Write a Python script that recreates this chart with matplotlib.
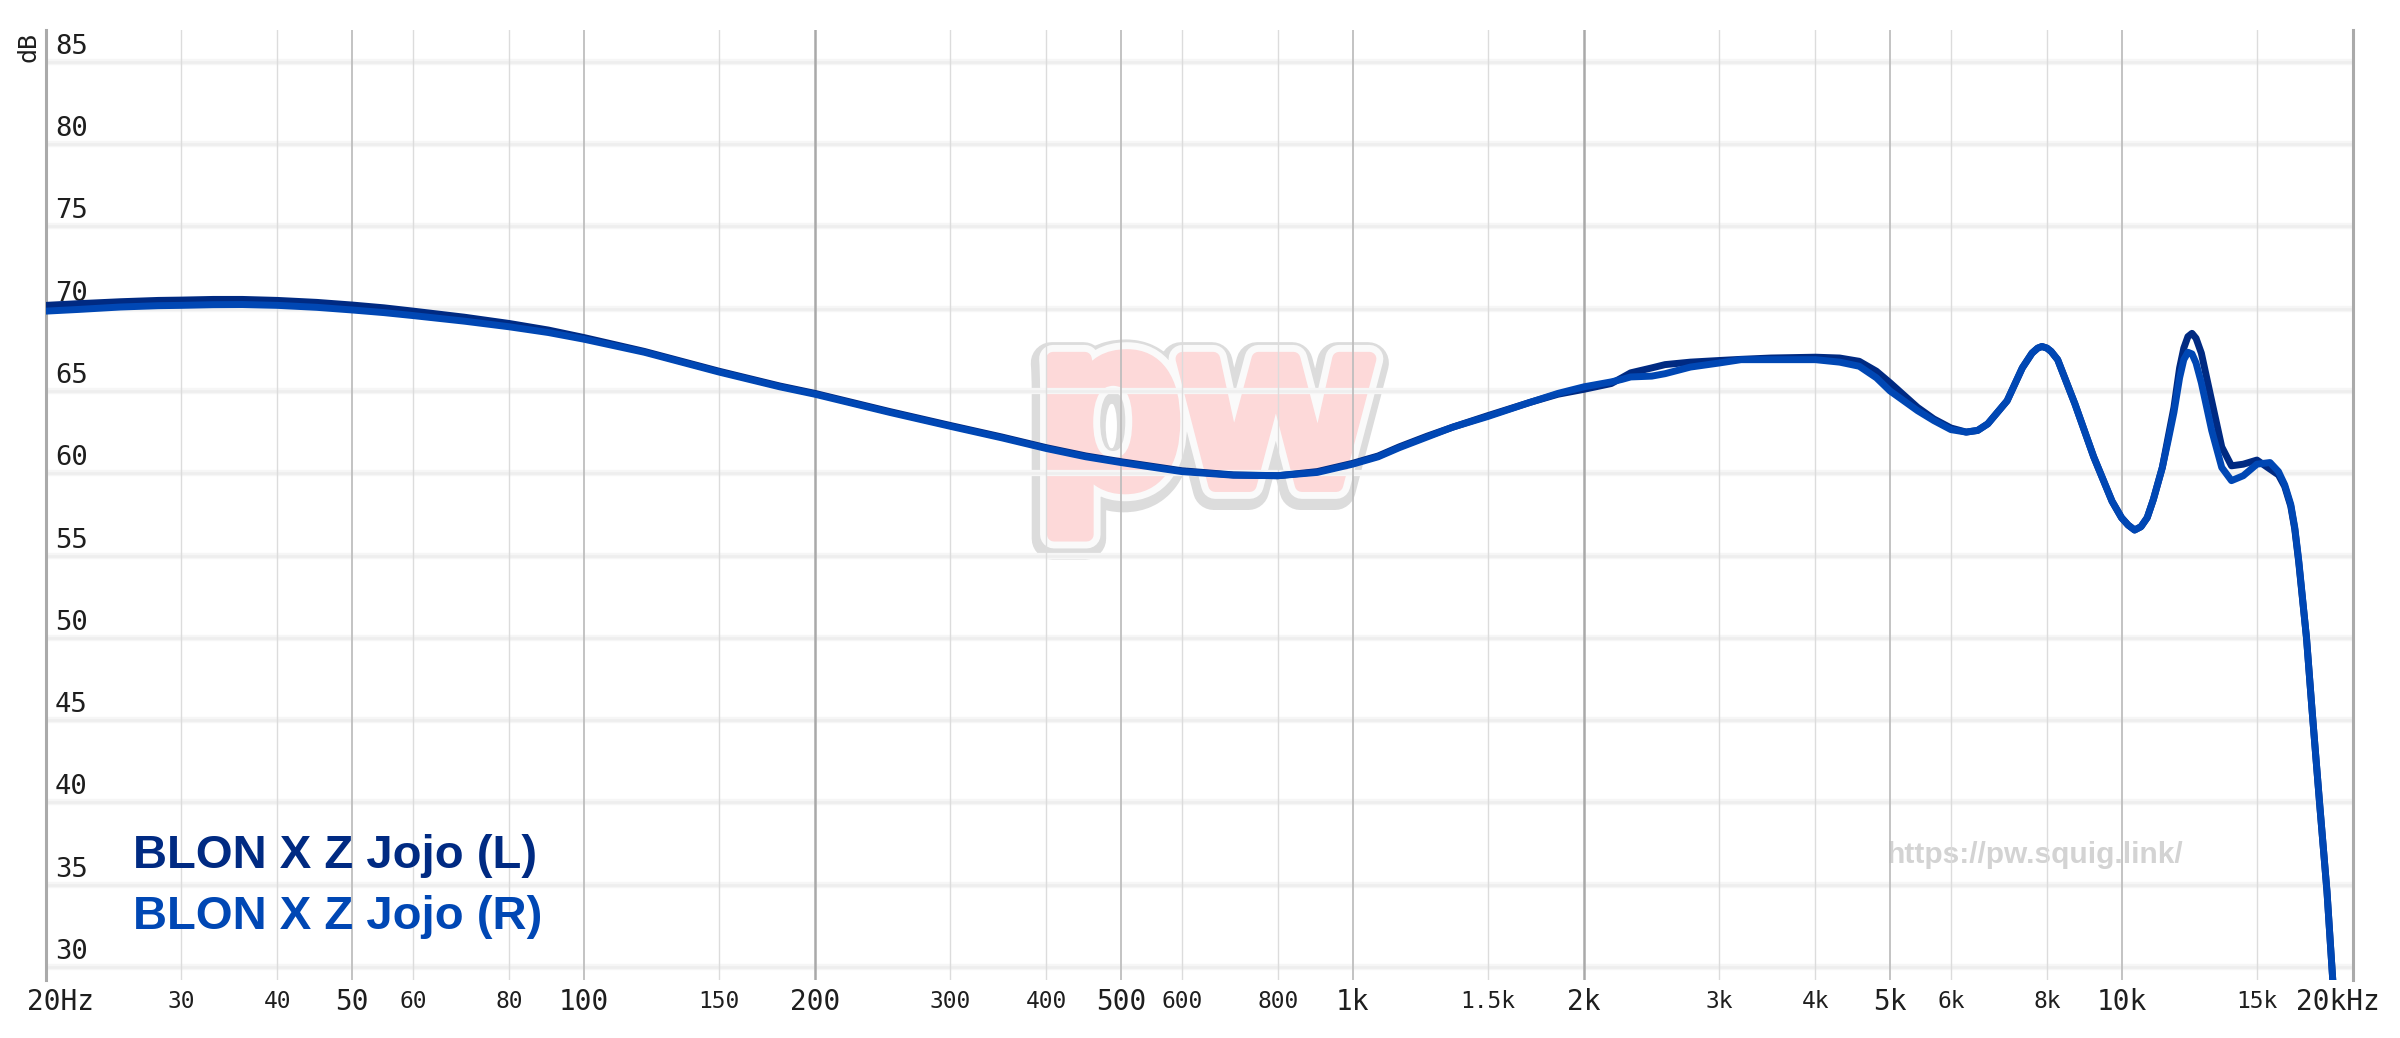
import matplotlib
matplotlib.use("Agg")
import matplotlib.pyplot as plt
import matplotlib.patheffects as pe
from matplotlib.ticker import NullLocator
from matplotlib.transforms import offset_copy

# frequency response (Hz, dB)
freqs = [20, 22, 25, 28, 30, 33, 36, 40, 45, 50, 55, 60, 70, 80, 90, 100, 120, 150, 180, 200,
         250, 300, 350, 400, 450, 500, 600, 700, 800, 900, 1000, 1080, 1150, 1250, 1350, 1500,
         1700, 1850, 2000, 2170, 2240, 2300, 2450, 2550, 2750, 3000, 3200, 3500, 4000, 4300,
         4560, 4800, 5000, 5430, 5700, 6000, 6280, 6500, 6700, 7100, 7430, 7650, 7780, 7880,
         8000, 8100, 8260, 8700, 9200, 9720, 10000, 10200, 10400, 10600, 10800, 11000, 11300,
         11500, 11700, 11900, 12050, 12200, 12350, 12500, 12700, 13100, 13500, 13900, 14400,
         15000, 15600, 16000, 16300, 16600, 16800, 17000, 17400, 17700, 18100, 18500, 18800,
         19000]
left_db = [70.2, 70.3, 70.42, 70.5, 70.52, 70.56, 70.56, 70.5, 70.38, 70.22, 70.05, 69.85,
           69.48, 69.1, 68.7, 68.25, 67.4, 66.2, 65.3, 64.85, 63.75, 62.9, 62.2, 61.55, 61.05,
           60.7, 60.15, 59.9, 59.85, 60.1, 60.6, 61.05, 61.6, 62.25, 62.8, 63.5, 64.3, 64.8,
           65.1, 65.45, 65.8, 66.1, 66.4, 66.6, 66.75, 66.85, 66.92, 67.0, 67.05, 67.0, 66.8,
           66.2, 65.5, 64.0, 63.3, 62.75, 62.5, 62.6, 63.0, 64.4, 66.4, 67.3, 67.6, 67.7, 67.6,
           67.4, 66.9, 64.2, 61.0, 58.3, 57.3, 56.85, 56.55, 56.75, 57.3, 58.4, 60.35, 62.2,
           64.0, 66.4, 67.6, 68.3, 68.5, 68.2, 67.3, 64.4, 61.6, 60.45, 60.55, 60.8, 60.25,
           59.9, 59.2, 58.0, 56.6, 54.6, 50.0, 45.5, 39.9, 34.6, 29.6, 26.5]
right_db = [69.85, 69.95, 70.1, 70.18, 70.2, 70.24, 70.25, 70.2, 70.08, 69.92, 69.76, 69.58,
            69.24, 68.9, 68.55, 68.15, 67.35, 66.15, 65.25, 64.8, 63.7, 62.85, 62.15, 61.5,
            61.0, 60.65, 60.1, 59.88, 59.85, 60.05, 60.55, 61.0, 61.55, 62.2, 62.8, 63.45,
            64.3, 64.85, 65.25, 65.55, 65.7, 65.85, 65.9, 66.05, 66.45, 66.7, 66.9, 66.9, 66.9,
            66.75, 66.5, 65.8, 65.0, 63.8, 63.2, 62.65, 62.5, 62.6, 63.0, 64.4, 66.4, 67.3,
            67.6, 67.7, 67.6, 67.4, 66.9, 64.2, 61.0, 58.3, 57.3, 56.85, 56.55, 56.75, 57.3,
            58.4, 60.35, 62.0, 63.7, 65.8, 66.9, 67.35, 67.25, 66.7, 65.5, 62.6, 60.35, 59.55,
            59.85, 60.55, 60.65, 60.1, 59.3, 58.1, 56.7, 54.7, 50.0, 45.5, 39.9, 34.6, 29.6,
            26.5]

db_ticks = [30, 35, 40, 45, 50, 55, 60, 65, 70, 75, 80, 85]
major_freqs = [50, 100, 200, 500, 1000, 2000, 5000, 10000]
major_labels = ["50", "100", "200", "500", "1k", "2k", "5k", "10k"]
minor_freqs = [30, 40, 60, 80, 150, 300, 400, 600, 800, 1500, 3000, 4000, 6000, 8000, 15000]
minor_labels = ["30", "40", "60", "80", "150", "300", "400", "600", "800", "1.5k", "3k",
                "4k", "6k", "8k", "15k"]

mono = "DejaVu Sans Mono"
txt = "#1e1e1e"
pink = "#fdd9d9"

fig = plt.figure(figsize=(24, 10.38), dpi=100)
ax = fig.add_axes([46 / 2400, 1 - 980 / 1038, 2307 / 2400, 950 / 1038])
ax.set_xscale("log")
ax.set_xlim(20, 20000)
ax.set_ylim(29.21, 86.93)
ax.xaxis.set_major_locator(NullLocator())
ax.xaxis.set_minor_locator(NullLocator())
ax.set_yticks([])
ax.tick_params(length=0)
for s in ["top", "bottom"]:
    ax.spines[s].set_visible(False)
for s in ["left", "right"]:
    ax.spines[s].set_color("#aaaaaa")
    ax.spines[s].set_linewidth(2.2)

# soft horizontal grid
for v in db_ticks:
    ax.axhline(v, color="#f6f6f6", lw=4.5, zorder=1)
    ax.axhline(v, color="#eeeeee", lw=1.8, zorder=1.1)

# vertical grid
for f in minor_freqs:
    ax.axvline(f, color="#dcdcdc", lw=1.0, zorder=1.2)
for f in major_freqs:
    if f in (200, 2000):
        ax.axvline(f, color="#a9a9a9", lw=1.8, zorder=1.3)
    else:
        ax.axvline(f, color="#bebebe", lw=1.3, zorder=1.3)

# watermark and url
ax.text(1203 / 2400, 1 - 423 / 1038, "pw", transform=fig.transFigure, ha="center", va="center",
        fontsize=172, weight="bold", family="Liberation Sans", color=pink, zorder=0.5,
        path_effects=[pe.Stroke(linewidth=30, foreground="#dcdcdc", offset=(-1, -3),
                                joinstyle="round"),
                      pe.Stroke(linewidth=20, foreground="#fafafa", joinstyle="round"),
                      pe.Stroke(linewidth=10, foreground=pink, joinstyle="round"),
                      pe.Normal()])
ax.text(1887 / 2400, 1 - 863 / 1038, "https://pw.squig.link/", transform=fig.transFigure,
        ha="left", va="baseline", fontsize=21.5, weight="bold", family="Liberation Sans",
        color="#d3d3d3", zorder=0.8)

# curves
ax.plot(freqs, left_db, color="#002a82", lw=5, zorder=3, solid_joinstyle="round",
        solid_capstyle="round")
ax.plot(freqs, right_db, color="#0047b4", lw=5, zorder=3.1, solid_joinstyle="round",
        solid_capstyle="round")

# y labels inside the plot
ytr = offset_copy(ax.transData, fig=fig, x=9, y=15, units="dots")
for v in db_ticks:
    ax.text(20, v, str(v), transform=ytr, ha="left", va="center", fontsize=19.5,
            family=mono, color=txt, zorder=2)
fig.text(28.5 / 2400, 1 - 47 / 1038, "dB", rotation=90, ha="center", va="center",
         fontsize=18, family=mono, color=txt)

# x labels
xtr = ax.get_xaxis_transform()
ylab = -22 / 950
for f, lab in zip(major_freqs, major_labels):
    ax.text(f, ylab, lab, transform=xtr, ha="center", va="center", fontsize=20,
            family=mono, color=txt)
for f, lab in zip(minor_freqs, minor_labels):
    ax.text(f, ylab, lab, transform=xtr, ha="center", va="center", fontsize=16.5,
            family=mono, color=txt)
ax.text(20, ylab, "20Hz", transform=offset_copy(xtr, fig=fig, x=-19, y=0, units="dots"),
        ha="left", va="center", fontsize=20, family=mono, color=txt)
ax.text(20000, ylab, "20kHz", transform=offset_copy(xtr, fig=fig, x=27, y=0, units="dots"),
        ha="right", va="center", fontsize=20, family=mono, color=txt)

# legend names
fig.text(133 / 2400, 1 - 868 / 1038, "BLON X Z Jojo (L)", ha="left", va="baseline",
         fontsize=34, weight="bold", family="Liberation Sans", color="#002a82")
fig.text(133 / 2400, 1 - 929 / 1038, "BLON X Z Jojo (R)", ha="left", va="baseline",
         fontsize=34, weight="bold", family="Liberation Sans", color="#0047b4")

fig.savefig("out.png", dpi=100, facecolor="white")
